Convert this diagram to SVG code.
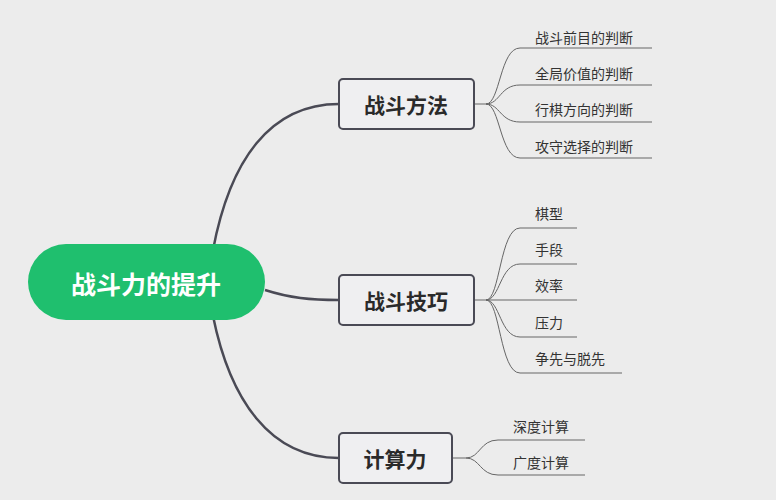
<svg xmlns="http://www.w3.org/2000/svg" width="776" height="500" viewBox="0 0 776 500">
<style>
.box{fill:#efeff1;stroke:#4a4a55;stroke-width:2}
.bt{font-family:"Noto Sans CJK SC",sans-serif;font-size:21px;font-weight:bold;fill:#2a2a2a;text-anchor:middle;dominant-baseline:central}
.lt{font-family:"Noto Sans CJK SC",sans-serif;font-size:14px;fill:#333}
.main{fill:none;stroke:#4a4a55;stroke-width:2.5}
.sub{fill:none;stroke:#666;stroke-width:1}
</style>
<rect width="776" height="500" fill="#ececec"/>
<g id="connectors">
<path class="main" d="M213,250 C230,160 270,104 339,104"/>
<path class="main" d="M265,290 C290,298 310,300 339,300"/>
<path class="main" d="M213,316 C230,400 270,458 339,458"/>
<path class="sub" d="M474,104 H486 C500,104 500,48 520,48 H652"/>
<path class="sub" d="M486,104 C500,104 500,85 520,85 H652"/>
<path class="sub" d="M486,104 C500,104 500,122 520,122 H652"/>
<path class="sub" d="M486,104 C500,104 500,158 520,158 H652"/>
<path class="sub" d="M474,300 H486 C500,300 500,228 520,228 H577"/>
<path class="sub" d="M486,300 C500,300 500,264 520,264 H577"/>
<path class="sub" d="M486,300 H577"/>
<path class="sub" d="M486,300 C500,300 500,337 520,337 H577"/>
<path class="sub" d="M486,300 C500,300 500,373 520,373 H622"/>
<path class="sub" d="M452,458 H466 C480,458 480,440 498,440 H585"/>
<path class="sub" d="M466,458 C480,458 480,475 498,475 H585"/>
</g>
<g id="root"><rect x="28" y="244" width="237" height="76" rx="38" fill="#1fbf6e"/><text x="146" y="283" class="bt" style="fill:#fff;font-size:25px">战斗力的提升</text></g>
<g id="n1"><rect class="box" x="339" y="79" width="135" height="50" rx="4"/><text x="406" y="104" class="bt">战斗方法</text></g>
<g id="n2"><rect class="box" x="339" y="275" width="135" height="50" rx="4"/><text x="406" y="300" class="bt">战斗技巧</text></g>
<g id="n3"><rect class="box" x="339" y="433" width="113" height="50" rx="4"/><text x="395" y="458" class="bt">计算力</text></g>
<g id="leaves" class="lt">
<text x="535" y="43">战斗前目的判断</text>
<text x="535" y="79">全局价值的判断</text>
<text x="535" y="115">行棋方向的判断</text>
<text x="535" y="152">攻守选择的判断</text>
<text x="535" y="219">棋型</text>
<text x="535" y="255">手段</text>
<text x="535" y="291">效率</text>
<text x="535" y="328">压力</text>
<text x="535" y="364">争先与脱先</text>
<text x="513" y="432">深度计算</text>
<text x="513" y="468">广度计算</text>
</g>
</svg>
